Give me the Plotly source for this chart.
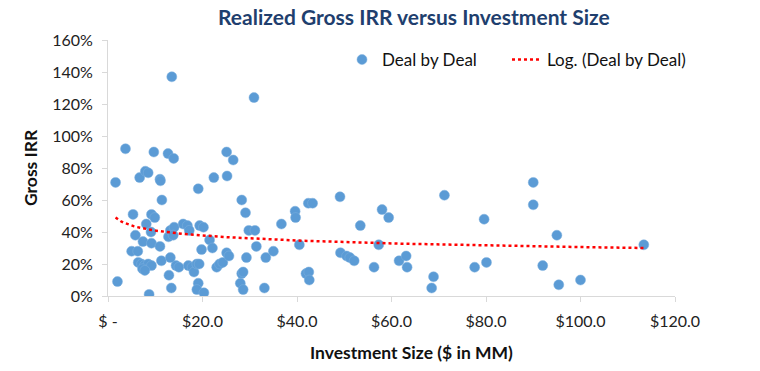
import numpy as np
import plotly.graph_objects as go

# Investment size ($MM) and realized gross IRR (%)
investment_size = [
    1.6, 2.0, 3.7, 5.3, 5.8, 5.0, 6.3, 6.7, 7.9, 8.5,
    7.4, 8.1, 9.2, 9.9, 9.1, 9.2, 8.7, 9.7, 11.0, 11.1,
    11.4, 11.0, 11.3, 12.7, 13.9, 13.5, 12.8, 13.2, 14.0, 13.8,
    13.2, 12.9, 13.4, 6.4, 7.1, 7.7, 8.5, 9.2, 7.3, 7.8,
    14.4, 15.0, 15.9, 16.8, 17.2, 19.4, 20.2, 17.0, 17.8, 18.2,
    18.8, 19.3, 19.8, 19.1, 19.1, 18.8, 20.3, 21.5, 22.1, 22.4,
    25.2, 25.1, 26.5, 23.0, 23.6, 24.3, 25.1, 25.6, 28.3, 29.1,
    29.8, 31.1, 29.3, 28.3, 28.6, 28.0, 28.6, 30.9, 31.4, 33.4,
    35.0, 33.1, 36.7, 39.6, 39.7, 40.5, 42.4, 43.3, 41.9, 42.5,
    42.6, 49.1, 49.2, 50.5, 51.2, 52.1, 53.4, 56.3, 57.3, 58.0,
    59.4, 61.6, 63.1, 63.3, 68.9, 68.5, 71.2, 77.6, 79.6, 80.1,
    90.0, 90.0, 95.0, 92.0, 100.0, 95.4, 113.4,
]
gross_irr_pct = [
    71, 9, 92, 51, 38, 28, 28, 74, 78, 77,
    34, 45, 51, 49, 40, 33, 1, 90, 73, 72,
    60, 31, 22, 89, 86, 137, 37, 41, 43, 38,
    24, 13, 5, 21, 20, 19, 20, 19, 17, 16,
    19, 18, 45, 44, 41, 44, 43, 19, 18, 15,
    20, 20, 29, 67, 8, 4, 2, 35, 30, 74,
    75, 90, 85, 18, 20, 21, 27, 25, 60, 52,
    41, 41, 24, 14, 15, 8, 4, 124, 31, 24,
    28, 5, 45, 53, 49, 32, 58, 58, 14, 15,
    10, 62, 27, 25, 24, 22, 44, 18, 32, 54,
    49, 22, 25, 18, 12, 5, 63, 18, 48, 21,
    71, 57, 38, 19, 10, 7, 32,
]

x_tick_vals = [0, 20, 40, 60, 80, 100, 120]
x_tick_text = ["$ -", "$20.0", "$40.0", "$60.0", "$80.0", "$100.0", "$120.0"]
y_tick_vals = [0, 0.2, 0.4, 0.6, 0.8, 1.0, 1.2, 1.4, 1.6]
y_tick_text = ["0%", "20%", "40%", "60%", "80%", "100%", "120%", "140%", "160%"]

x = np.array(investment_size, dtype=float)
y = np.array(gross_irr_pct, dtype=float) / 100.0

# Logarithmic trendline (least squares of y on ln x), as Excel does
b, a = np.polyfit(np.log(x), y, 1)
xt = np.linspace(x.min(), x.max(), 200)
yt = a + b * np.log(xt)

FONT = "Lato"
W, H = 760, 371
l, r, t, bm = 108, 85, 40, 75
pw, ph = W - l - r, H - t - bm


def px2paper(px, py):
    return (px - l) / pw, (H - bm - py) / ph


fig = go.Figure()
fig.add_trace(go.Scatter(
    x=x, y=y, mode="markers", name="Deal by Deal", legend="legend",
    marker=dict(size=10, color="#5B9BD5", line=dict(width=0.5, color="#7FB1DF")),
))
fig.add_trace(go.Scatter(
    x=xt, y=yt, mode="lines", name="Log. (Deal by Deal)", legend="legend2",
    line=dict(color="#FF0000", width=2.5, dash="dot"),
))

l1x, l1y = px2paper(342, 42)
l2x, l2y = px2paper(507, 42)
leg_common = dict(orientation="h", xanchor="left", yanchor="top",
                  font=dict(size=17, color="#111111", family=FONT),
                  bgcolor="rgba(0,0,0,0)", itemwidth=30)
fig.update_layout(
    width=W, height=H,
    margin=dict(l=l, r=r, t=t, b=bm),
    paper_bgcolor="white", plot_bgcolor="white",
    font=dict(family=FONT, size=16, color="#222222"),
    title=dict(text="<b>Realized Gross IRR versus Investment Size</b>",
               x=410 / W, y=1 - 18 / H, xanchor="center", yanchor="middle",
               xref="paper", yref="container",
               font=dict(size=21, color="#1F3F6E", family=FONT)),
    showlegend=True,
    legend=dict(x=l1x, y=l1y, **leg_common),
    legend2=dict(x=l2x, y=l2y, **leg_common),
    xaxis=dict(range=[0, 120], tickvals=x_tick_vals, ticktext=x_tick_text,
               showgrid=False, zeroline=False, showline=True, linecolor="#D9D9D9",
               linewidth=1, ticks="outside", ticklen=5, tickcolor="#D9D9D9",
               ticklabelstandoff=6,
               tickfont=dict(size=16, color="#222222")),
    yaxis=dict(range=[0, 1.6], tickvals=y_tick_vals, ticktext=y_tick_text,
               showgrid=False, zeroline=False, showline=True, linecolor="#D9D9D9",
               linewidth=1, ticks="outside", ticklen=5, tickcolor="#D9D9D9",
               ticklabelstandoff=6,
               tickfont=dict(size=16, color="#222222")),
)
ax, ay = px2paper(411, 352)
fig.add_annotation(text="<b>Investment Size ($ in MM)</b>", x=ax, y=ay, xref="paper", yref="paper",
                   xanchor="center", yanchor="middle",
                   showarrow=False, font=dict(size=17.5, color="#111111", family=FONT))
gx, gy = px2paper(30, 168)
fig.add_annotation(text="<b>Gross IRR</b>", x=gx, y=gy, xref="paper", yref="paper",
                   xanchor="center", yanchor="middle",
                   showarrow=False, textangle=-90, font=dict(size=17.5, color="#111111", family=FONT))

fig.write_html("out.html", config={"displayModeBar": False},
               post_script="document.body.style.margin='0';")
